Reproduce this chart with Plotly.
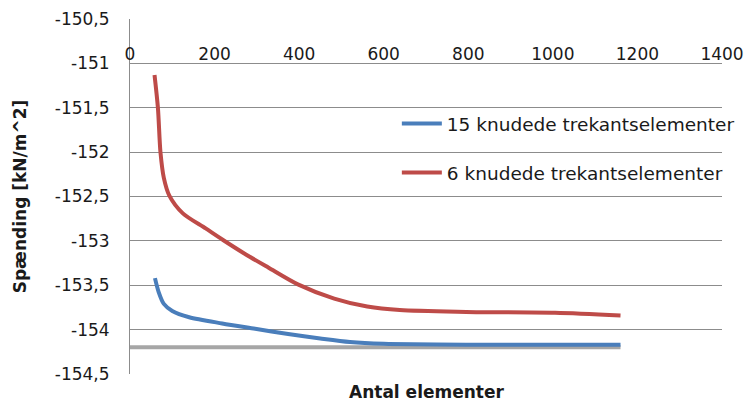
import plotly.graph_objects as go

# Antal elementer vs. spænding for the two element types
x15 = [59, 68, 80, 100, 140, 218, 296, 374, 450, 520, 600, 800, 1000, 1160]
y15 = [-153.42, -153.58, -153.71, -153.79, -153.86, -153.93, -153.99, -154.05, -154.10,
       -154.14, -154.16, -154.17, -154.17, -154.17]

x6 = [58, 66, 72, 80, 93, 125, 179, 220, 273, 327, 397, 483, 561, 638, 795, 1005, 1160]
y6 = [-151.13, -151.50, -152.00, -152.29, -152.49, -152.69, -152.86, -152.99, -153.15, -153.30,
      -153.49, -153.65, -153.74, -153.78, -153.80, -153.81, -153.84]

# Reference value
x_ref = [0, 1160]
y_ref = [-154.2, -154.2]

x_ticks = [0, 200, 400, 600, 800, 1000, 1200, 1400]
x_ticktext = ["0", "200", "400", "600", "800", "1000", "1200", "1400"]
y_ticks = [-150.5, -151, -151.5, -152, -152.5, -153, -153.5, -154, -154.5]
y_ticktext = ["-150,5", "-151", "-151,5", "-152", "-152,5", "-153", "-153,5", "-154", "-154,5"]

FONT = "DejaVu Sans"
GRID = "#8c8c8c"

fig = go.Figure()
fig.add_trace(go.Scatter(x=x_ref, y=y_ref, mode="lines",
                         line=dict(color="#a6a6a6", width=4), showlegend=False, hoverinfo="skip"))
fig.add_trace(go.Scatter(x=x15, y=y15, mode="lines", name="15 knudede trekantselementer",
                         line=dict(color="#4a7ebb", width=4, shape="spline", smoothing=0.8),
                         legendgroup="a"))
fig.add_trace(go.Scatter(x=x6, y=y6, mode="lines", name="6 knudede trekantselementer",
                         line=dict(color="#be4b48", width=4, shape="spline", smoothing=0.8),
                         legendgroup="b"))

fig.update_layout(
    width=752, height=405,
    margin=dict(l=130, r=23, t=19, b=31),
    paper_bgcolor="white", plot_bgcolor="white",
    font=dict(family=FONT, size=17, color="#1a1a1a"),
    xaxis=dict(range=[0, 1400], tickvals=x_ticks, ticktext=x_ticktext,
               side="top", anchor="free", position=0.875, automargin=False,
               showgrid=False, zeroline=False, showline=False, ticks="",
               tickfont=dict(family=FONT, size=17)),
    yaxis=dict(range=[-154.5, -150.5], tickvals=y_ticks, ticktext=y_ticktext, automargin=False,
               showgrid=True, gridcolor=GRID, gridwidth=1, zeroline=False,
               showline=True, linecolor=GRID, linewidth=1, ticks="", ticklabelstandoff=16,
               tickfont=dict(family=FONT, size=17),
               title=dict(text="<b>Spænding [kN/m^2]</b>", font=dict(family=FONT, size=17), standoff=23)),
    legend=dict(x=(400 - 130) / 599, xref="paper", y=1 - (105 - 19) / 355, yanchor="top",
                font=dict(family=FONT, size=18.5), bgcolor="rgba(0,0,0,0)",
                traceorder="grouped", tracegroupgap=22, itemwidth=40),
    annotations=[dict(text="<b>Antal elementer</b>", x=0.5, xref="paper", y=-18 / 355, yref="paper",
                      yanchor="middle", showarrow=False, font=dict(family=FONT, size=17))],
)

fig.write_html("out.html")
